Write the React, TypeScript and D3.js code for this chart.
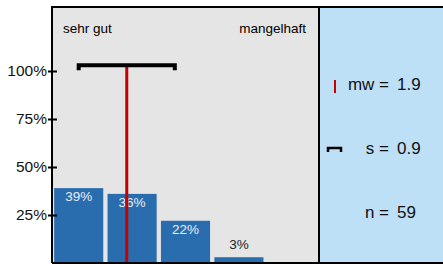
import React from "react";
import { select, scaleBand, scaleLinear, axisLeft } from "d3";

const categories = ["1", "2", "3", "4", "5"];
const shares = [0.39, 0.36, 0.22, 0.03, 0];
const yTicks = [0.25, 0.5, 0.75, 1];
const leftLabel = "sehr gut";
const rightLabel = "mangelhaft";
const mean = 1.9;
const sd = 0.9;
const n = 59;

const W = 443;
const H = 264;

export default function App() {
  const svgRef = React.useRef<SVGSVGElement>(null);

  React.useEffect(() => {
    const svg = select(svgRef.current);
    svg.selectAll("*").remove();

    const plot = { left: 52, right: 319, top: 7, bottom: 263 };
    const font = "Arial, 'Liberation Sans', sans-serif";

    const x = scaleBand()
      .domain(categories)
      .range([plot.left, plot.right])
      .paddingInner(0.08)
      .paddingOuter(0.04);

    const y = scaleLinear().domain([0, 1]).range([plot.bottom, 71]);

    // category value (1..5) -> pixel at band centre
    const xv = (v: number) => {
      const c0 = x(categories[0])! + x.bandwidth() / 2;
      return c0 + (v - 1) * x.step();
    };

    svg.append("rect")
      .attr("x", plot.left).attr("y", plot.top)
      .attr("width", plot.right - plot.left).attr("height", plot.bottom - plot.top)
      .attr("fill", "#e5e5e5");
    svg.append("rect")
      .attr("x", plot.right).attr("y", plot.top)
      .attr("width", W - plot.right).attr("height", plot.bottom - plot.top)
      .attr("fill", "#bee0f7");

    svg.append("g")
      .selectAll("rect")
      .data(shares)
      .join("rect")
      .attr("x", (_, i) => x(categories[i])!)
      .attr("y", (d) => y(d))
      .attr("width", x.bandwidth())
      .attr("height", (d) => y(0) - y(d))
      .attr("fill", "#2a6dae");

    svg.append("g")
      .selectAll("text")
      .data(shares.filter((d) => d > 0))
      .join("text")
      .attr("x", (_, i) => x(categories[i])! + x.bandwidth() / 2)
      .attr("y", (d) => (d > 0.1 ? y(d) + 13 : y(d) - 8))
      .attr("text-anchor", "middle")
      .attr("font-family", font)
      .attr("font-size", 13.5)
      .attr("fill", (d) => (d > 0.1 ? "#e8eef7" : "#222"))
      .text((d) => `${Math.round(d * 100)}%`);

    // mean line
    svg.append("line")
      .attr("x1", xv(mean)).attr("x2", xv(mean))
      .attr("y1", y(1.026)).attr("y2", plot.bottom)
      .attr("stroke", "#c40000").attr("stroke-width", 3);

    // sd bracket
    const sy = y(1.03);
    svg.append("path")
      .attr("d", `M${xv(mean - sd)},${sy + 5}V${sy}H${xv(mean + sd)}V${sy + 5}`)
      .attr("fill", "none")
      .attr("stroke", "#000")
      .attr("stroke-width", 4);

    svg.append("text")
      .attr("x", 63).attr("y", 33)
      .attr("font-family", font).attr("font-size", 13.5)
      .text(leftLabel);
    svg.append("text")
      .attr("x", 306).attr("y", 33)
      .attr("text-anchor", "end")
      .attr("font-family", font).attr("font-size", 13.5)
      .text(rightLabel);

    const ax = svg.append("g")
      .attr("transform", `translate(${plot.left},0)`)
      .call(
        axisLeft(y)
          .tickValues(yTicks)
          .tickSize(5)
          .tickFormat((d) => `${Math.round(+d * 100)}%`)
      );
    ax.select(".domain").remove();
    ax.selectAll(".tick line")
      .attr("x2", 5).attr("x1", -4)
      .attr("stroke", "#000").attr("stroke-width", 2);
    ax.selectAll(".tick text")
      .attr("x", -5)
      .attr("font-family", font)
      .attr("font-size", 15.5)
      .attr("fill", "#111");

    // frame
    svg.append("path")
      .attr("d", `M${plot.left},${plot.bottom}V${plot.top}H${W}M${plot.right},${plot.top}V${plot.bottom}M${plot.left},${plot.bottom}H${W}`)
      .attr("fill", "none")
      .attr("stroke", "#000")
      .attr("stroke-width", 2);

    // legend
    const lg = svg.append("g").attr("font-family", font).attr("font-size", 17).attr("fill", "#111");
    const rows = [
      { label: "mw =", value: mean.toFixed(1), y: 84 },
      { label: "s =", value: sd.toFixed(1), y: 148 },
      { label: "n =", value: `${n}`, y: 212 },
    ];
    rows.forEach((r) => {
      lg.append("text").attr("x", 389).attr("y", r.y).attr("dy", "0.35em")
        .attr("text-anchor", "end").text(r.label);
      lg.append("text").attr("x", 397).attr("y", r.y).attr("dy", "0.35em").text(r.value);
    });
    lg.append("line")
      .attr("x1", 335).attr("x2", 335).attr("y1", 80).attr("y2", 93)
      .attr("stroke", "#c40000").attr("stroke-width", 2);
    lg.append("path")
      .attr("d", "M328,152V148H341V152")
      .attr("fill", "none").attr("stroke", "#000").attr("stroke-width", 2.5);
  }, []);

  return (
    <svg
      ref={svgRef}
      width={W}
      height={H}
      style={{ position: "absolute", left: 0, top: 0, background: "#fff" }}
    />
  );
}
